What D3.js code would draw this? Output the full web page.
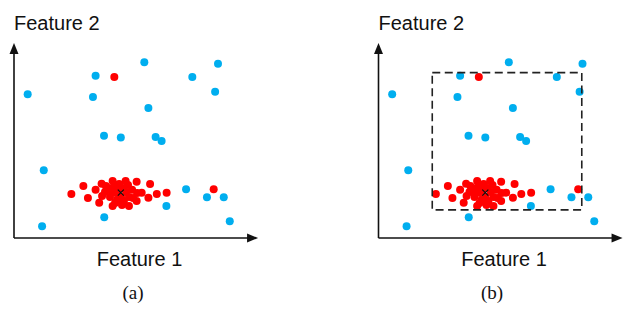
<!doctype html>
<html lang="en">
<head>
<meta charset="utf-8">
<title>Feature scatter</title>
<script src="https://cdn.jsdelivr.net/npm/d3@7"></script>
<style>
  body { margin: 0; background: #fff; }
</style>
</head>
<body>
<script>
// outlier points (blue), in feature units 0..10
var blueX = [0.57, 3.40, 3.29, 5.43, 7.43, 8.50, 8.38, 5.60, 3.75, 4.45,
             5.90, 6.15, 1.24, 1.17, 3.76, 6.35, 7.17, 8.04, 8.74, 8.99];
var blueY = [7.37, 8.32, 7.23, 9.01, 8.26, 8.94, 7.50, 6.67, 5.25, 5.16,
             5.18, 4.97, 3.47, 0.60, 1.06, 1.64, 2.50, 2.09, 2.09, 0.86];

// red points: the cluster plus two strays
var redX = [4.18, 8.32,
            2.39, 2.89, 3.08, 3.40, 3.55, 3.65, 4.11, 4.11, 4.65, 5.11,
            5.67, 5.32, 5.60, 5.95, 6.36, 5.11, 4.79, 4.92,
            3.79, 3.92, 4.00, 4.17, 4.25, 4.29, 4.38, 4.46, 4.54, 4.58,
            4.67, 4.75, 4.79, 4.96, 4.33, 4.08, 4.50, 4.21, 3.83, 5.13, 3.67];
var redY = [8.26, 2.50,
            2.26, 2.67, 2.05, 2.48, 1.81, 2.78, 2.92, 1.64, 2.92, 2.89,
            2.77, 2.32, 2.07, 2.26, 2.32, 1.90, 1.64, 2.48,
            2.36, 2.56, 2.10, 2.67, 2.31, 1.95, 2.77, 2.10, 2.56, 1.90,
            2.36, 2.72, 2.10, 2.05, 2.46, 2.36, 1.69, 1.79, 2.67, 2.31, 2.15];

// cluster centre
var centre = [4.45, 2.33];

// window drawn in panel (b): [x0, x1, y0, y1]
var windowBox = [2.24, 8.47, 1.44, 8.48];

var panels = ["(a)", "(b)"];
var axisLabels = ["Feature 1", "Feature 2"];

var width = 640, height = 309;
var panelShift = [0, 364.5];
var captionX = [133, 492];

var svg = d3.select("body").append("svg")
    .attr("width", width)
    .attr("height", height);

var x = d3.scaleLinear().domain([0, 10]).range([14, 254]);
var y = d3.scaleLinear().domain([0, 10]).range([238, 43]);
var xEnd = 10.17;

var blue = "#00aeef", red = "#ff0000";

var blues = blueX.map(function(d, i) { return [d, blueY[i]]; });
var reds = redX.map(function(d, i) { return [d, redY[i]]; });

panels.forEach(function(name, p) {
    var g = svg.append("g").attr("transform", "translate(" + panelShift[p] + ",0)");

    // axes
    g.append("line")
        .attr("x1", x(0)).attr("y1", y(0))
        .attr("x2", x(xEnd) - 6).attr("y2", y(0))
        .attr("stroke", "#111").attr("stroke-width", 1.6);
    g.append("line")
        .attr("x1", x(0)).attr("y1", y(0))
        .attr("x2", x(0)).attr("y2", y(10) + 6)
        .attr("stroke", "#111").attr("stroke-width", 1.6);

    // arrow heads
    var tx = x(xEnd), ty = y(0);
    g.append("path")
        .attr("d", "M" + tx + "," + ty + "L" + (tx - 11) + "," + (ty - 4.5) + "L" + (tx - 11) + "," + (ty + 4.5) + "Z")
        .attr("fill", "#111");
    var ux = x(0), uy = y(10);
    g.append("path")
        .attr("d", "M" + ux + "," + uy + "L" + (ux - 4.5) + "," + (uy + 11) + "L" + (ux + 4.5) + "," + (uy + 11) + "Z")
        .attr("fill", "#111");

    // axis titles
    g.append("text")
        .attr("x", x(0)).attr("y", 29.5)
        .attr("font-family", "Liberation Sans, Arial, sans-serif")
        .attr("font-size", "20px")
        .attr("fill", "#111")
        .text(axisLabels[1]);
    g.append("text")
        .attr("x", 139.5).attr("y", 265.5)
        .attr("text-anchor", "middle")
        .attr("font-family", "Liberation Sans, Arial, sans-serif")
        .attr("font-size", "20px")
        .attr("fill", "#111")
        .text(axisLabels[0]);

    // points
    g.selectAll("circle.blue")
        .data(blues)
        .enter().append("circle")
        .attr("class", "blue")
        .attr("cx", function(d) { return x(d[0]); })
        .attr("cy", function(d) { return y(d[1]); })
        .attr("r", 4)
        .attr("fill", blue);

    g.selectAll("circle.red")
        .data(reds)
        .enter().append("circle")
        .attr("class", "red")
        .attr("cx", function(d) { return x(d[0]); })
        .attr("cy", function(d) { return y(d[1]); })
        .attr("r", 4)
        .attr("fill", red);

    // centre cross
    var cx = x(centre[0]), cy = y(centre[1]), s = 3;
    g.append("path")
        .attr("d", "M" + (cx - s) + "," + (cy - s) + "L" + (cx + s) + "," + (cy + s) +
                   "M" + (cx - s) + "," + (cy + s) + "L" + (cx + s) + "," + (cy - s))
        .attr("stroke", "#111").attr("stroke-width", 1.2);

    // dashed window only in (b)
    if (p === 1) {
        g.append("rect")
            .attr("x", x(windowBox[0]))
            .attr("y", y(windowBox[3]))
            .attr("width", x(windowBox[1]) - x(windowBox[0]))
            .attr("height", y(windowBox[2]) - y(windowBox[3]))
            .attr("fill", "none")
            .attr("stroke", "#222")
            .attr("stroke-width", 1.6)
            .attr("stroke-dasharray", "8,4.5");
    }
});

// captions
svg.selectAll("text.caption")
    .data(panels)
    .enter().append("text")
    .attr("class", "caption")
    .attr("x", function(d, i) { return captionX[i]; })
    .attr("y", 299)
    .attr("text-anchor", "middle")
    .attr("font-family", "Liberation Serif, Times New Roman, serif")
    .attr("font-size", "19px")
    .attr("fill", "#111")
    .text(function(d) { return d; });
</script>
</body>
</html>
